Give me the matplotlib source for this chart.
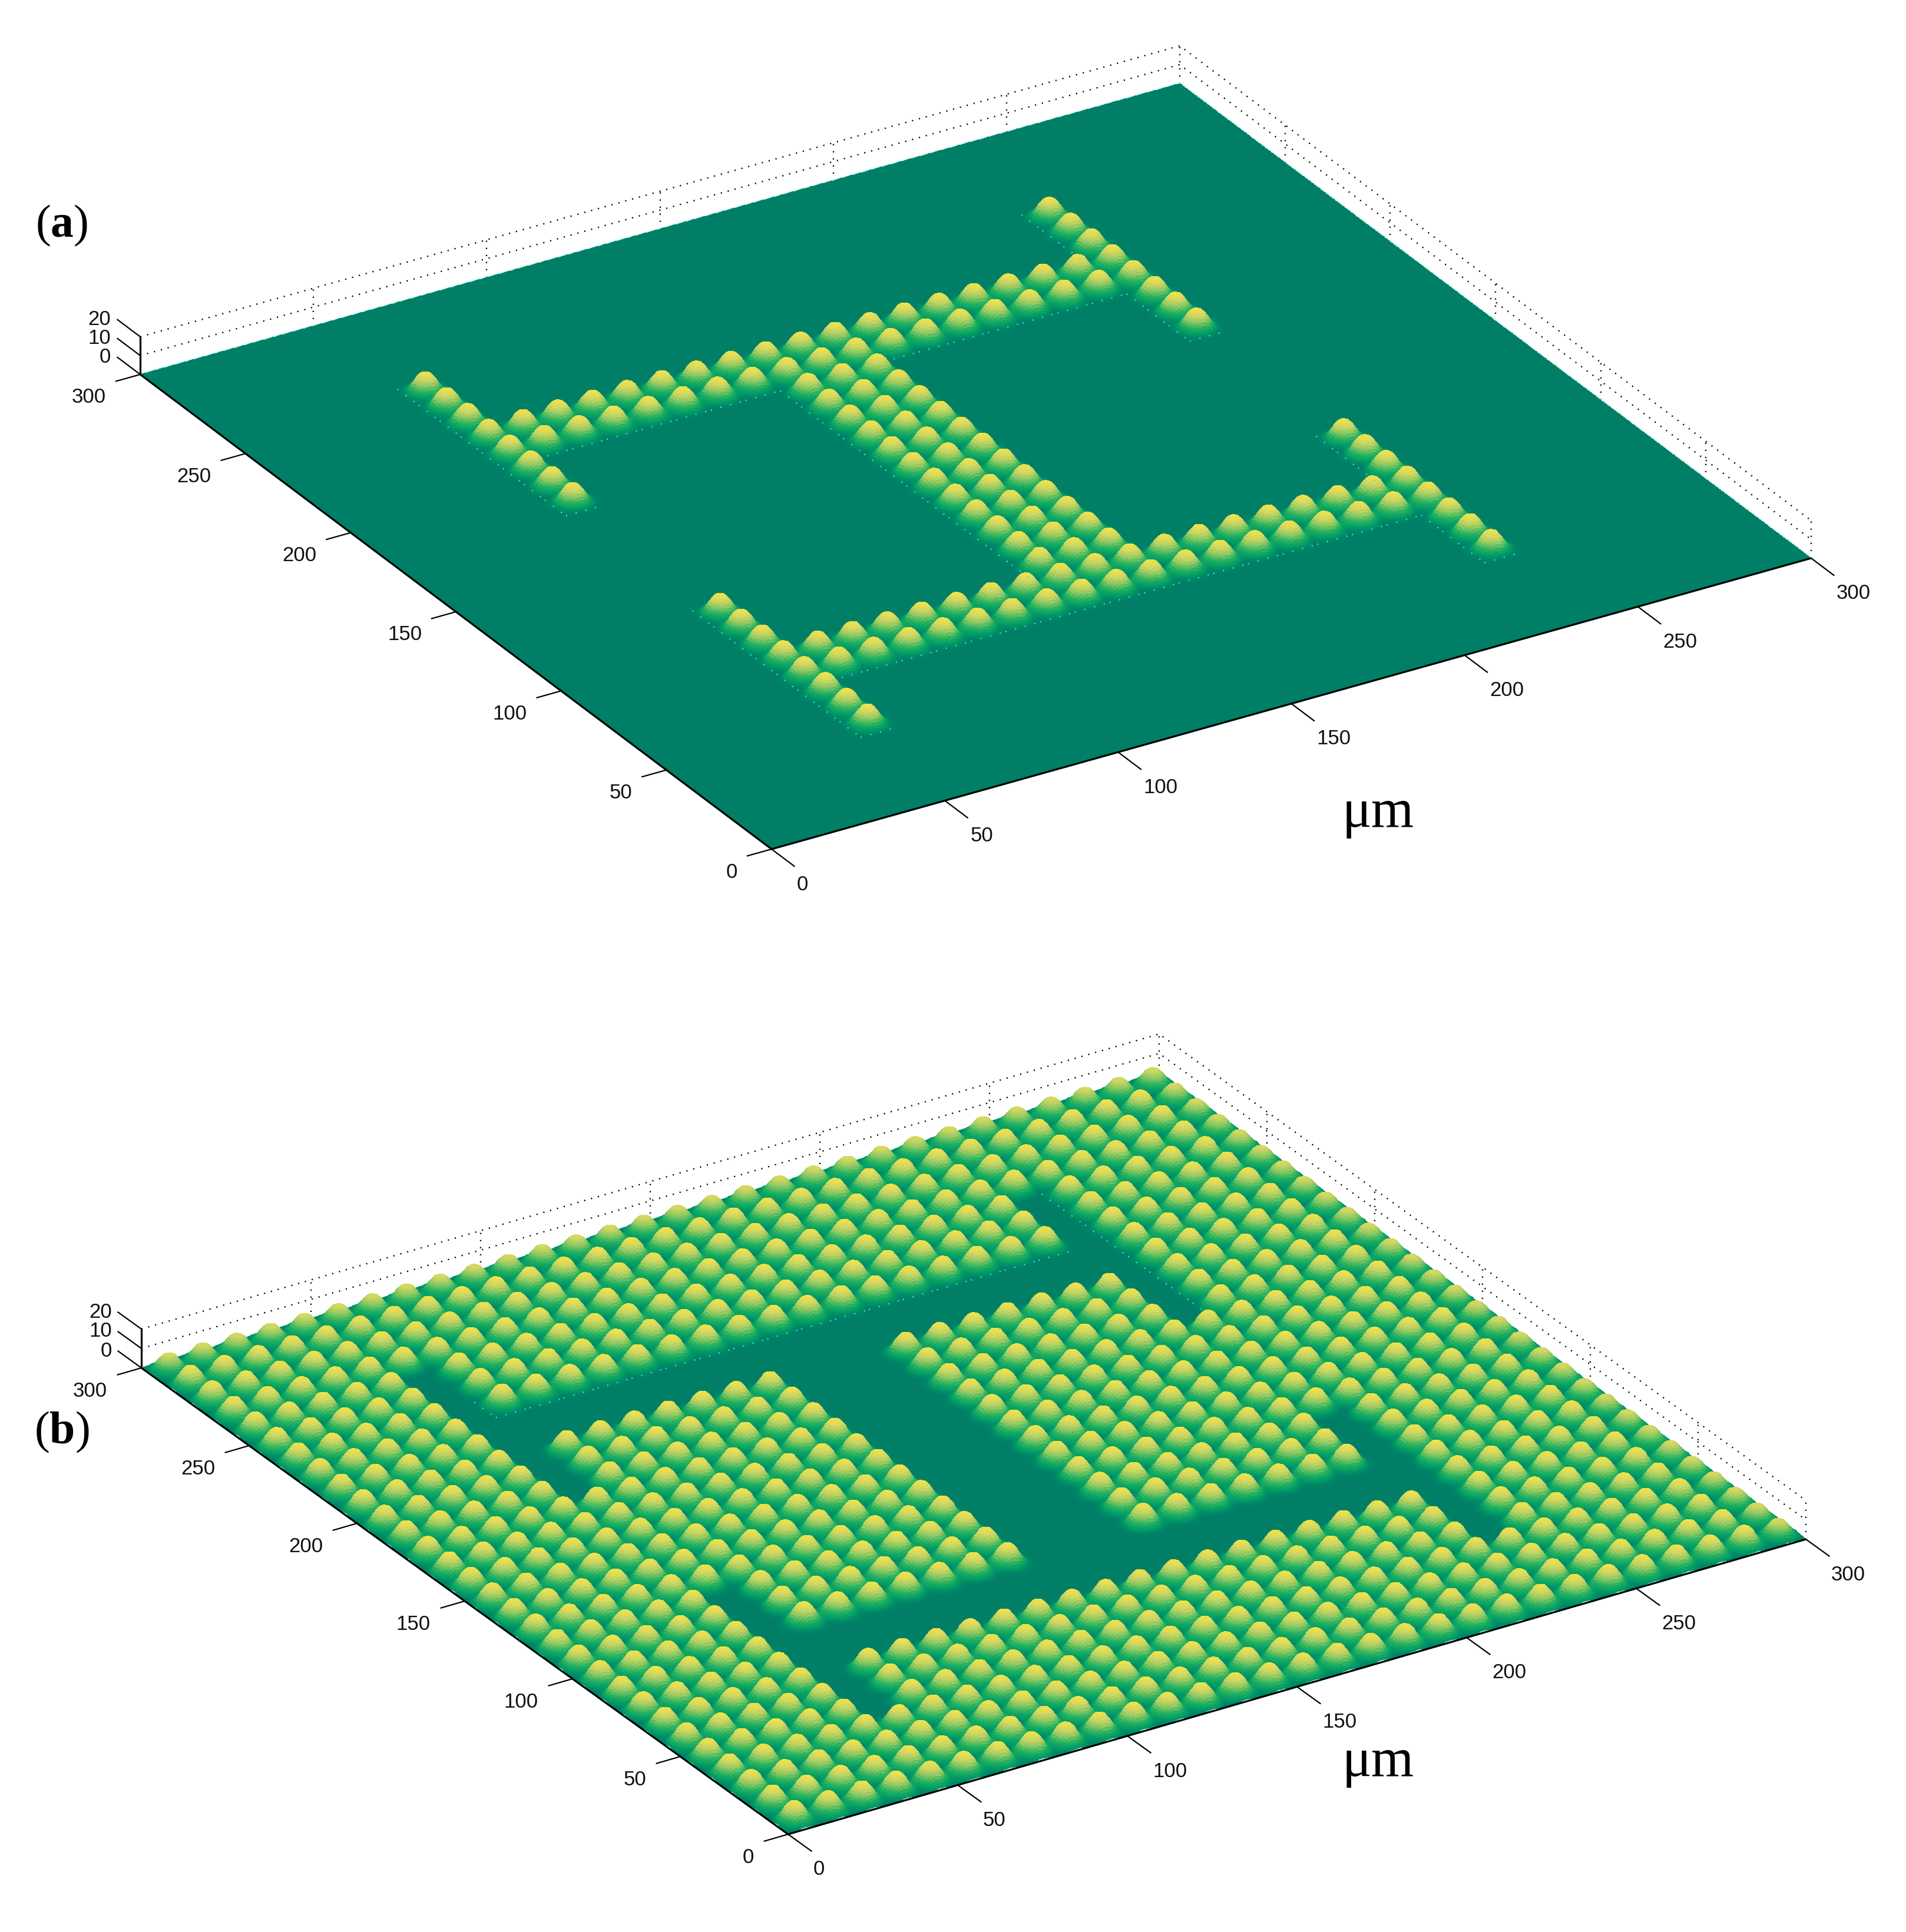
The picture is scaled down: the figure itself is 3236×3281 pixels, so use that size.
import numpy as np
import matplotlib
matplotlib.use("Agg")
import matplotlib.pyplot as plt
from matplotlib.colors import LinearSegmentedColormap

# ---------- data (micrometres) ----------
FLANGE_COLUMNS = [55, 235]
UPPER_FLANGE_ROWS = [185, 195, 205, 215, 225, 235, 245, 255]
LOWER_FLANGE_ROWS = [45, 55, 65, 75, 85, 95, 105, 115]
UPPER_WEB_ROWS = [215, 225]
LOWER_WEB_ROWS = [75, 85]
WEB_COLUMNS = [65, 75, 85, 95, 105, 115, 125, 135, 145, 155, 165, 175, 185, 195, 205, 215, 225]
BEAM_COLUMNS = [135, 145, 155]
BEAM_ROWS = [95, 105, 115, 125, 135, 145, 155, 165, 175, 185, 195, 205]
GRID_CENTRES = [5, 15, 25, 35, 45, 55, 65, 75, 85, 95, 105, 115, 125, 135, 145,
                155, 165, 175, 185, 195, 205, 215, 225, 235, 245, 255, 265, 275, 285, 295]
BUMP_HEIGHT = 10.5
FAR_EDGE_BUMP_HEIGHT = 8.8
BUMP_RADIUS = 3.6
BUMP_POWER = 2.6
XY_TICKS = [0, 50, 100, 150, 200, 250, 300]
Z_TICKS = [0, 10, 20]
PANEL_LABELS = ["a", "b"]
UNIT_LABEL = "\u03bcm"

# ---------- view geometry (figure pixels) ----------
VIEW_A = dict(o=(1310, 1442), ex=(5.883, -1.647), ey=(-3.573, -2.687), ez=3.2,
              label=(105, 383), unit=(2340, 1381))
VIEW_B = dict(o=(1338, 3115), ex=(5.76, -1.67), ey=(-3.66, -2.64), ez=3.3,
              label=(105, 2432), unit=(2340, 2994))
HEIGHT_COLOURS = LinearSegmentedColormap.from_list(
    "surface", [(0.00, "#007f66"), (0.12, "#009a66"), (0.30, "#1fb060"),
                (0.55, "#8cc862"), (0.78, "#cfd662"), (1.00, "#eee24e")])

W, H = 3237, 3281
plt.rcParams["mathtext.fontset"] = "custom"
plt.rcParams["mathtext.bf"] = "Liberation Serif:bold"
plt.rcParams["mathtext.rm"] = "Liberation Serif"
fig = plt.figure(figsize=(W / 100, H / 100), dpi=100, facecolor="white")
ax = fig.add_axes([0, 0, 1, 1])
ax.set_xlim(0, W)
ax.set_ylim(H, 0)
ax.axis("off")


def project(view, x, y, z=0.0):
    x, y, z = np.asarray(x, float), np.asarray(y, float), np.asarray(z, float)
    px = view["o"][0] + view["ex"][0] * x + view["ey"][0] * y
    py = view["o"][1] + view["ex"][1] * x + view["ey"][1] * y - view["ez"] * z
    return px, py


def pattern_cells():
    cells = set()
    for c in FLANGE_COLUMNS:
        cells |= {(c, r) for r in UPPER_FLANGE_ROWS + LOWER_FLANGE_ROWS}
    cells |= {(c, r) for c in WEB_COLUMNS for r in UPPER_WEB_ROWS + LOWER_WEB_ROWS}
    cells |= {(c, r) for c in BEAM_COLUMNS for r in BEAM_ROWS}
    return cells


def height_field(cells, step=0.5):
    # descending axes: rows and columns run from the far corner to the near one
    xs = np.arange(300, -step / 2, -step)
    ys = np.arange(300, -step / 2, -step)
    xg, yg = np.meshgrid(xs, ys)
    z = np.zeros_like(xg)
    reach = int(12 / step)
    n = len(xs) - 1
    far = max(GRID_CENTRES)
    for cx, cy in cells:
        i = int(round((300 - cy) / step))
        j = int(round((300 - cx) / step))
        i0, i1 = max(0, i - reach), min(n + 1, i + reach + 1)
        j0, j1 = max(0, j - reach), min(n + 1, j + reach + 1)
        r = np.hypot(xg[i0:i1, j0:j1] - cx, yg[i0:i1, j0:j1] - cy)
        h = FAR_EDGE_BUMP_HEIGHT if (cx == far or cy == far) else BUMP_HEIGHT
        z[i0:i1, j0:j1] += h * np.exp(-(r / BUMP_RADIUS) ** BUMP_POWER)
    return xg, yg, z


def front_edges(cells, keep):
    segs = []
    for cx, cy in cells:
        if (cx - 10, cy) not in cells and keep(cx, cy):
            segs.append(((cx - 5, cy + 5), (cx - 5, cy - 5)))
        if (cx, cy - 10) not in cells and keep(cx, cy):
            segs.append(((cx - 5, cy - 5), (cx + 5, cy - 5)))
    return segs


def draw_panel(view, cells, letter, dot_keep):
    top = max(XY_TICKS)
    zmax = max(Z_TICKS)
    dots = dict(color="black", lw=1.7, linestyle=(0, (0.9, 4.2)), zorder=1)
    # back walls
    for z in Z_TICKS[1:]:
        px, py = project(view, [0, top, top], [top, top, 0], z)
        ax.plot(px, py, **dots)
    for t in XY_TICKS[1:]:
        px, py = project(view, [t, t], [top, top], [0, zmax])
        ax.plot(px, py, **dots)
    for t in XY_TICKS[:-1]:
        px, py = project(view, [top, top], [t, t], [0, zmax])
        ax.plot(px, py, **dots)
    # pale fringe round the sheet
    px, py = project(view, [0, top, top, 0, 0], [0, 0, top, top, 0], 0)
    ax.plot(px, py, color="#c4f7f4", lw=3.0, zorder=1.5)
    # surface
    xg, yg, z = height_field(cells)
    px, py = project(view, xg, yg, z)
    c = 0.25 * (z[:-1, :-1] + z[1:, :-1] + z[:-1, 1:] + z[1:, 1:])
    ax.pcolormesh(px, py, c, cmap=HEIGHT_COLOURS, vmin=0, vmax=BUMP_HEIGHT,
                  shading="flat", antialiased=False, linewidth=0, zorder=2)
    # cyan speckle along the near edges of the pattern
    for (a, b) in front_edges(cells, dot_keep):
        qx, qy = project(view, [a[0], b[0]], [a[1], b[1]], 0)
        ax.plot(qx, qy, color="#35e6e6", lw=1.8, linestyle=(0, (0.8, 6)), zorder=3)
    # solid axes
    solid = dict(color="black", lw=2.3, zorder=4, solid_capstyle="butt")
    ax.plot(*project(view, [0, top], [0, 0], 0), **solid)
    ax.plot(*project(view, [0, 0], [0, top], 0), **solid)
    ax.plot(*project(view, [0, 0], [top, top], [0, zmax]), **solid)
    ticks = dict(color="black", lw=1.6, zorder=4)
    txt = dict(fontsize=25, family="Liberation Sans", color="#111111", zorder=5)
    ox, oy = view["ex"], view["ey"]
    for t in XY_TICKS:
        # x axis ticks point away along -y, y axis ticks along -x
        x0, y0 = project(view, t, 0, 0)
        ax.plot([x0, x0 - oy[0] * 10.8], [y0, y0 - oy[1] * 10.8], **ticks)
        ax.text(x0 + 43, y0 + 60, str(t), ha="left", va="center", **txt)
        x0, y0 = project(view, 0, t, 0)
        ax.plot([x0, x0 - ox[0] * 7], [y0, y0 - ox[1] * 7], **ticks)
        ax.text(x0 - 58, y0 + 39, str(t), ha="right", va="center", **txt)
    for t in Z_TICKS:
        x0, y0 = project(view, 0, top, t)
        ax.plot([x0, x0 + oy[0] * 10.8], [y0, y0 + oy[1] * 10.8], **ticks)
        ax.text(x0 - 50, y0 - 29, str(t), ha="right", va="center", **txt)
    ax.text(*view["label"], "(" + r"$\mathbf{%s}$" % letter + ")", ha="center", va="center",
            fontsize=56, family="Liberation Serif", color="black", zorder=5)
    ax.text(*view["unit"], UNIT_LABEL, ha="center", va="center",
            fontsize=67, family="Liberation Serif", color="black", zorder=5)


shape = pattern_cells()
everything = {(c, r) for c in GRID_CENTRES for r in GRID_CENTRES}
draw_panel(VIEW_A, shape, PANEL_LABELS[0], lambda c, r: True)
draw_panel(VIEW_B, everything - shape, PANEL_LABELS[1],
           lambda c, r: (r == 235 and 65 <= c <= 225) or (c == 245 and r >= 185))

fig.savefig("out.png", dpi=100, facecolor="white")
